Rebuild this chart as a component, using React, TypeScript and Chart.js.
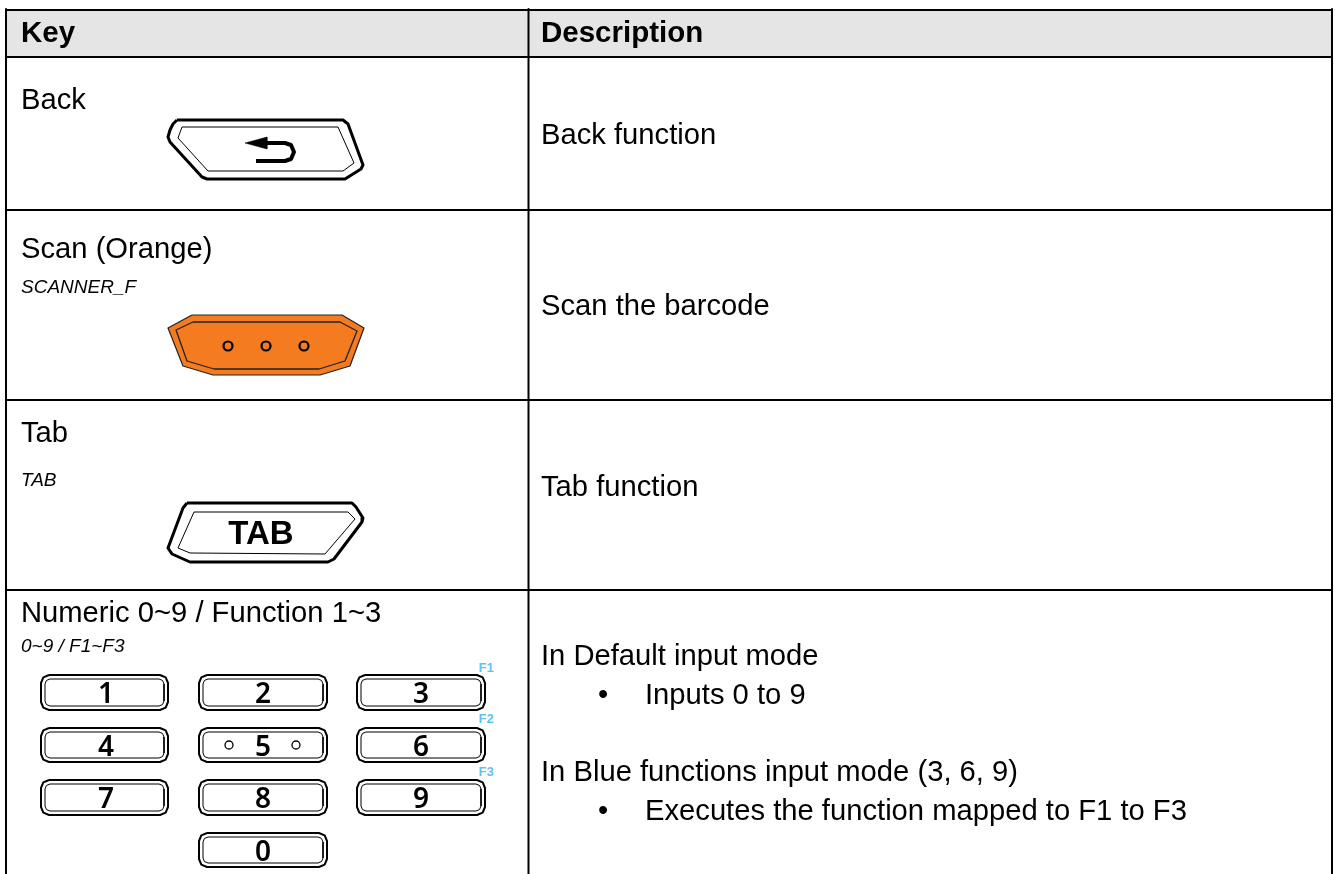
import React, { useEffect, useRef } from "react";
import { Chart, registerables } from "chart.js";

Chart.register(...registerables);

type P = [number, number];

// Table geometry (values live in a 1335 x 874 data space)
const headerBand: P[] = [[6, 10], [1332, 10], [1332, 57], [6, 57], [6, 10]];
const tableRules: P[][] = [
  [[6, 10], [1332, 10]],
  [[6, 57], [1332, 57]],
  [[6, 210], [1332, 210]],
  [[6, 400], [1332, 400]],
  [[6, 590], [1332, 590]],
  [[6, 9], [6, 874]],
  [[528.5, 9], [528.5, 874]],
  [[1332, 9], [1332, 874]],
];

const backOuter: P[] = [[177, 120], [343, 120], [348, 124], [363, 165], [361, 169], [345, 179], [207, 179], [202, 177], [170, 142], [168, 137], [170, 130], [173, 124], [177, 120]];
const backInner: P[] = [[182, 127], [338, 127], [354, 163], [343, 171], [208, 171], [178, 138], [182, 127]];
const backArrowHead: P[] = [[245, 143], [267, 137], [267, 149], [245, 143]];
const backArrowStem: P[] = [[265, 143], [285, 143], [291, 145], [294, 152], [291, 159], [285, 161], [256, 161]];

const scanOuter: P[] = [[192, 315], [342, 315], [364, 328], [350, 366], [320, 375], [213, 375], [183, 366], [168, 328], [192, 315]];
const scanInner: P[] = [[193, 322], [340, 322], [357, 331], [345, 361], [319, 369], [214, 369], [187, 361], [176, 330], [193, 322]];
const scanDots: P[] = [[228, 346], [266, 346], [304, 346]];

const tabOuter: P[] = [[187, 503], [352, 503], [356, 507], [363, 518], [362, 522], [334, 559], [328, 562], [190, 562], [172, 554], [168, 548], [183, 508], [187, 503]];
const tabInner: P[] = [[194, 512], [348, 512], [355, 519], [325, 554], [190, 553], [178, 548], [194, 512]];

const numericKeys: [number, number, number, number][] = [
  [41, 675, 168, 710], [199, 675, 327, 710], [357, 675, 485, 710],
  [41, 728, 168, 762], [199, 728, 327, 762], [357, 728, 485, 762],
  [41, 780, 168, 815], [199, 780, 327, 815], [357, 780, 485, 815],
  [199, 833, 327, 867],
];
const fiveDots: P[] = [[229, 745], [296, 745]];

// Texts
const bodyTexts: string[] = [
  "Back", "Scan (Orange)", "Tab", "Numeric 0~9 / Function 1~3",
  "Back function", "Scan the barcode", "Tab function",
  "In Default input mode", "Inputs 0 to 9", "In Blue functions input mode (3, 6, 9)", "Executes the function mapped to F1 to F3",
];
const bodyX: number[] = [21, 21, 21, 21, 541, 541, 541, 541, 645, 541, 645];
const bodyY: number[] = [108.5, 258, 442, 622, 144, 315, 496, 665, 704, 781, 820];
const headerTexts: string[] = ["Key", "Description"];
const headerX: number[] = [21, 541];
const headerY: number[] = [42, 42];
const hintTexts: string[] = ["SCANNER_F", "TAB", "0~9 / F1~F3"];
const hintX: number[] = [21, 21, 21];
const hintY: number[] = [293, 486, 652];
const bullets: string[] = ["•", "•"];
const bulletX: number[] = [598, 598];
const bulletY: number[] = [704, 820];
const digitTexts: string[] = ["1", "2", "3", "4", "5", "6", "7", "8", "9", "0"];
const digitX: number[] = [106, 263, 421, 106, 263, 421, 106, 263, 421, 263];
const digitY: number[] = [703, 703, 703, 756, 756, 756, 808, 808, 808, 861];
const fnTexts: string[] = ["F1", "F2", "F3"];
const fnX: number[] = [494, 494, 494];
const fnY: number[] = [672, 723, 776];
const tabCapTexts: string[] = ["TAB"];
const tabCapX: number[] = [261];
const tabCapY: number[] = [544];

function roundedOutline(x0: number, y0: number, x1: number, y1: number, r: number): P[] {
  const k = 0.29 * r;
  return [
    [x0 + r, y0], [x1 - r, y0], [x1 - k, y0 + k], [x1, y0 + r],
    [x1, y1 - r], [x1 - k, y1 - k], [x1 - r, y1],
    [x0 + r, y1], [x0 + k, y1 - k], [x0, y1 - r],
    [x0, y0 + r], [x0 + k, y0 + k], [x0 + r, y0],
  ];
}

const toXY = (pts: P[]) => pts.map(([x, y]) => ({ x, y }));

const SANS = '"Liberation Sans", Arial, sans-serif';

const textPlugin = {
  id: "tableTexts",
  afterDatasetsDraw(chart: any) {
    const { ctx, scales } = chart;
    const put = (texts: string[], xs: number[], ys: number[], font: string, color: string, align: CanvasTextAlign) => {
      ctx.save();
      ctx.font = font;
      ctx.fillStyle = color;
      ctx.textAlign = align;
      ctx.textBaseline = "alphabetic";
      texts.forEach((t, i) => ctx.fillText(t, scales.x.getPixelForValue(xs[i]), scales.y.getPixelForValue(ys[i])));
      ctx.restore();
    };
    put(headerTexts, headerX, headerY, `bold 29.5px ${SANS}`, "#000", "left");
    put(bodyTexts, bodyX, bodyY, `29.2px ${SANS}`, "#000", "left");
    put(hintTexts, hintX, hintY, `italic 19px ${SANS}`, "#000", "left");
    put(bullets, bulletX, bulletY, `29.2px ${SANS}`, "#000", "left");
    put(digitTexts, digitX, digitY, `600 28px "Noto Sans", sans-serif`, "#000", "center");
    put(fnTexts, fnX, fnY, `bold 13px ${SANS}`, "#5CC3EE", "right");
    put(tabCapTexts, tabCapX, tabCapY, `bold 33px ${SANS}`, "#000", "center");
  },
};

export default function App() {
  const ref = useRef<HTMLCanvasElement>(null);

  useEffect(() => {
    if (!ref.current) return;
    const line = (pts: P[], w: number, color = "#000", fill?: string) => ({
      data: toXY(pts),
      borderColor: color,
      borderWidth: w,
      backgroundColor: fill ?? "transparent",
      fill: fill ? "shape" : false,
      pointRadius: 0,
      showLine: true,
      tension: 0,
      borderJoinStyle: "round",
      borderCapStyle: "butt",
    });
    const dots = (pts: P[], r: number, w: number, fill: string) => ({
      data: toXY(pts),
      showLine: false,
      pointRadius: r,
      pointBorderWidth: w,
      pointBorderColor: "#000",
      pointBackgroundColor: fill,
    });

    const list: any[] = [
      line(headerBand, 0, "transparent", "#E5E5E5"),
      ...tableRules.map((r) => line(r, 2)),
      line(backOuter, 3),
      line(backInner, 1),
      line(backArrowHead, 0.5, "#000", "#000"),
      line(backArrowStem, 4),
      line(scanOuter, 1.2, "#222", "#F47B20"),
      line(scanInner, 1.3, "#222"),
      dots(scanDots, 4.5, 2.2, "#F47B20"),
      line(tabOuter, 3),
      line(tabInner, 1),
      ...numericKeys.map(([a, b, c, d]) => line(roundedOutline(a, b, c, d, 8), 2)),
      ...numericKeys.map(([a, b, c, d]) => line(roundedOutline(a + 4, b + 4, c - 4, d - 4, 5), 1)),
      dots(fiveDots, 4, 1.3, "#fff"),
    ];
    const datasets = list.map((d, i) => ({ ...d, order: list.length - i, clip: false }));

    const chart = new Chart(ref.current, {
      type: "scatter",
      data: { datasets },
      options: {
        animation: false,
        responsive: false,
        layout: { padding: 0, autoPadding: false },
        plugins: { legend: { display: false }, tooltip: { enabled: false }, title: { display: false } },
        scales: {
          x: { type: "linear", min: 0, max: 1335, display: false },
          y: { type: "linear", min: 0, max: 874, reverse: true, display: false },
        },
      },
      plugins: [textPlugin],
    } as any);
    return () => chart.destroy();
  }, []);

  return (
    <canvas
      ref={ref}
      width={1335}
      height={874}
      style={{ position: "fixed", left: 0, top: 0, width: 1335, height: 874, display: "block" }}
    />
  );
}
